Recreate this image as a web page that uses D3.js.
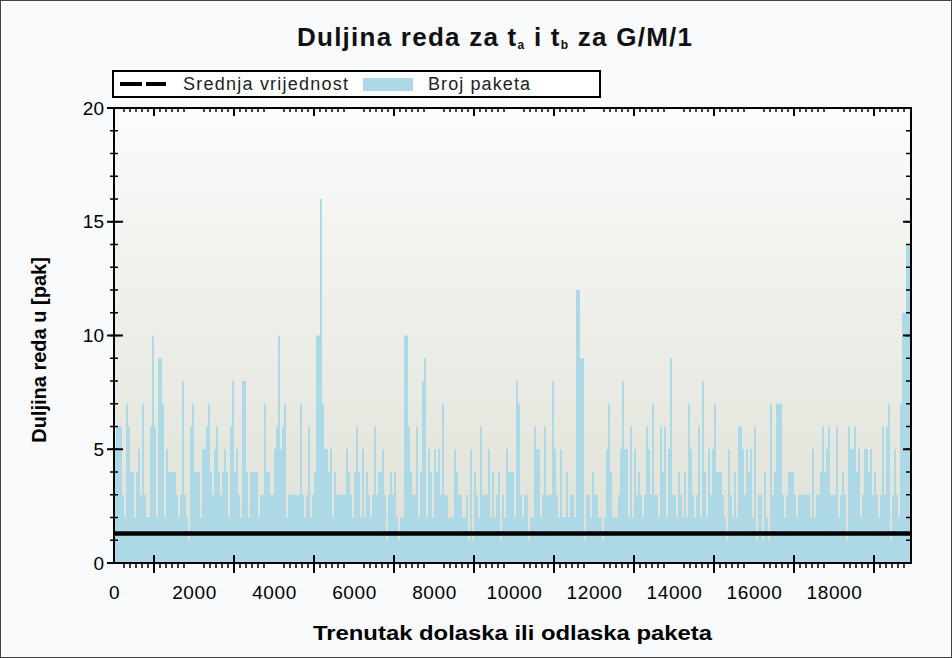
<!DOCTYPE html>
<html>
<head>
<meta charset="utf-8">
<script src="https://cdn.jsdelivr.net/npm/d3@7"></script>
<style>
  body { margin: 0; background: #f9fafb; }
  svg { display: block; }
</style>
</head>
<body>
<div class="chart"></div>
<script>
// queue length, one value per 50 packet instants
var queueLength = [
  5,6,6,6,3,2,7,6,4,4, 2,4,5,3,7,3,2,2,6,10, 6,2,9,9,7,2,5,4,4,4,
  4,3,2,3,8,3,2,1,6,7, 4,4,4,2,5,5,6,7,4,3, 5,6,4,3,4,5,4,2,6,8,
  4,5,3,2,8,8,4,2,4,4, 4,4,2,3,3,7,4,4,3,3, 5,6,10,5,6,7,2,3,3,3,
  3,3,3,7,3,2,3,6,2,3, 4,10,10,16,7,5,5,4,5,2, 4,3,3,3,3,3,5,4,3,2,
  4,6,4,2,5,2,4,3,2,3, 6,3,4,4,5,3,1,3,4,3, 4,2,1,2,2,10,10,6,4,3,
  3,6,2,4,8,9,2,5,4,2, 5,4,5,3,7,3,3,2,2,2, 5,4,3,3,2,2,3,1,5,1,
  4,3,2,6,3,3,3,5,2,4, 2,3,4,1,3,2,5,4,4,4, 2,8,7,3,2,3,3,1,2,2,
  6,5,5,2,3,6,3,3,3,8, 5,3,2,5,2,2,4,2,3,3, 2,12,12,9,9,1,3,3,2,4,
  3,3,2,2,1,2,5,7,4,2, 2,2,3,5,8,5,5,2,6,2, 5,3,4,3,2,3,6,5,3,7,
  3,3,2,6,4,6,2,5,9,3, 3,2,4,3,2,4,2,7,5,3, 2,3,6,2,8,4,2,5,3,5,
  7,4,4,4,3,2,1,5,3,2, 4,2,6,6,5,3,5,4,5,2, 6,1,3,3,1,4,2,1,7,3,
  4,7,7,7,3,2,3,4,4,4, 3,2,3,3,3,3,3,3,2,5, 2,3,3,4,6,4,5,6,3,3,
  3,6,2,3,4,3,1,6,5,5, 6,4,5,2,3,5,5,4,5,3, 4,3,2,3,6,3,6,7,1,3,
  5,3,2,7,11,11,14,14
];
var stepSize = 50;
var xMax = 19925;
var meanValue = 1.3;

var xTickLabels = [0, 2000, 4000, 6000, 8000, 10000, 12000, 14000, 16000, 18000];
var xMajorTicks = [1000, 3000, 5000, 7000, 9000, 11000, 13000, 15000, 17000, 19000];
var yTickLabels = [0, 5, 10, 15, 20];
var yMinorTicks = d3.range(0, 21);

var legendLabels = ["Srednja vrijednost", "Broj paketa"];

const width = 952,
  height = 658;
const plotLeft = 114,
  plotRight = 911,
  plotTop = 108,
  plotBottom = 563;

var svg = d3
  .select(".chart")
  .append("svg")
  .attr("width", width)
  .attr("height", height)
  .style("font-family", "'Liberation Sans', Arial, sans-serif");

// page background and frame
svg.append("rect").attr("width", width).attr("height", height).attr("fill", "#f9fafb");
svg
  .append("rect")
  .attr("x", 0.5)
  .attr("y", 0.5)
  .attr("width", width - 1)
  .attr("height", height - 1)
  .attr("fill", "none")
  .attr("stroke", "#444");

// plot gradient
var defs = svg.append("defs");
var grad = defs
  .append("linearGradient")
  .attr("id", "plotbg")
  .attr("x1", 0)
  .attr("y1", 0)
  .attr("x2", 0)
  .attr("y2", 1);
grad.append("stop").attr("offset", "0%").attr("stop-color", "#fbfcfb");
grad.append("stop").attr("offset", "100%").attr("stop-color", "#dedfd4");

defs
  .append("clipPath")
  .attr("id", "clip")
  .append("rect")
  .attr("x", plotLeft)
  .attr("y", plotTop)
  .attr("width", plotRight - plotLeft)
  .attr("height", plotBottom - plotTop);

const x = d3.scaleLinear().domain([0, xMax]).range([plotLeft, plotRight]);
const y = d3.scaleLinear().domain([0, 20]).range([plotBottom, plotTop]);

svg
  .append("rect")
  .attr("x", plotLeft)
  .attr("y", plotTop)
  .attr("width", plotRight - plotLeft)
  .attr("height", plotBottom - plotTop)
  .attr("fill", "url(#plotbg)");

// step area of the queue length
var points = queueLength.map((v, i) => ({ t: i * stepSize, v: v }));
points.push({ t: queueLength.length * stepSize, v: queueLength[queueLength.length - 1] });

var area = d3
  .area()
  .curve(d3.curveStepAfter)
  .x((d) => x(d.t))
  .y0(y(0))
  .y1((d) => y(d.v));

svg
  .append("path")
  .datum(points)
  .attr("clip-path", "url(#clip)")
  .attr("fill", "#add8e6")
  .attr("d", area);

// mean line
svg
  .append("line")
  .attr("x1", x(0))
  .attr("x2", plotRight)
  .attr("y1", y(meanValue))
  .attr("y2", y(meanValue))
  .attr("stroke", "#000")
  .attr("stroke-width", 4.5);

// plot frame
svg
  .append("rect")
  .attr("x", plotLeft)
  .attr("y", plotTop)
  .attr("width", plotRight - plotLeft)
  .attr("height", plotBottom - plotTop)
  .attr("fill", "none")
  .attr("stroke", "#000")
  .attr("stroke-width", 2);

//x minor ticks: five each side of a major tick
var xMinorTicks = [];
xMajorTicks.forEach((m) => {
  for (var k = 1; k <= 5; k++) {
    if (m - k * 150 > 0) xMinorTicks.push(m - k * 150);
    if (m + k * 150 < xMax) xMinorTicks.push(m + k * 150);
  }
});

var ticks = svg.append("g").attr("stroke", "#000").attr("stroke-width", 1.5);

// bottom
ticks.selectAll(".bmin").data(xMinorTicks).join("line").attr("class", "bmin")
  .attr("x1", (d) => x(d)).attr("x2", (d) => x(d))
  .attr("y1", plotBottom).attr("y2", plotBottom + 5);
ticks.selectAll(".bmaj").data(xMajorTicks).join("line").attr("class", "bmaj")
  .attr("stroke-width", 2)
  .attr("x1", (d) => x(d)).attr("x2", (d) => x(d))
  .attr("y1", plotBottom - 8).attr("y2", plotBottom + 10);
// top
ticks.selectAll(".tmin").data(xMinorTicks).join("line").attr("class", "tmin")
  .attr("x1", (d) => x(d)).attr("x2", (d) => x(d))
  .attr("y1", plotTop).attr("y2", plotTop + 4);
ticks.selectAll(".tmaj").data(xMajorTicks).join("line").attr("class", "tmaj")
  .attr("stroke-width", 2)
  .attr("x1", (d) => x(d)).attr("x2", (d) => x(d))
  .attr("y1", plotTop).attr("y2", plotTop + 8);
// left
ticks.selectAll(".lmin").data(yMinorTicks).join("line").attr("class", "lmin")
  .attr("x1", plotLeft - 4).attr("x2", plotLeft + 4)
  .attr("y1", (d) => y(d)).attr("y2", (d) => y(d));
ticks.selectAll(".lmaj").data(yTickLabels).join("line").attr("class", "lmaj")
  .attr("stroke-width", 2)
  .attr("x1", plotLeft - 7).attr("x2", plotLeft + 9)
  .attr("y1", (d) => y(d)).attr("y2", (d) => y(d));
// right
ticks.selectAll(".rmin").data(yMinorTicks).join("line").attr("class", "rmin")
  .attr("x1", plotRight - 5).attr("x2", plotRight)
  .attr("y1", (d) => y(d)).attr("y2", (d) => y(d));
ticks.selectAll(".rmaj").data(yTickLabels).join("line").attr("class", "rmaj")
  .attr("stroke-width", 2)
  .attr("x1", plotRight - 8).attr("x2", plotRight)
  .attr("y1", (d) => y(d)).attr("y2", (d) => y(d));

// tick labels through d3 axes
var xAxis = svg
  .append("g")
  .attr("transform", "translate(0," + (plotBottom + 15) + ")")
  .call(d3.axisBottom(x).tickValues(xTickLabels).tickSize(0).tickFormat(d3.format("d")));
xAxis.select(".domain").remove();
xAxis.selectAll("text").attr("font-size", 19).attr("fill", "#000").attr("dy", "0.95em")
  .attr("letter-spacing", 0.6)
  .style("font-family", "'Liberation Sans', Arial, sans-serif");

var yAxis = svg
  .append("g")
  .attr("transform", "translate(" + (plotLeft - 10) + ",0)")
  .call(d3.axisLeft(y).tickValues(yTickLabels).tickSize(0));
yAxis.select(".domain").remove();
yAxis.selectAll("text").attr("font-size", 19).attr("fill", "#000").attr("x", 0)
  .style("font-family", "'Liberation Sans', Arial, sans-serif");

// title
var title = svg
  .append("text")
  .attr("x", 297)
  .attr("y", 46)
  .attr("textLength", 395)
  .attr("lengthAdjust", "spacing")
  .attr("font-size", 26)
  .attr("font-weight", "bold")
  .attr("fill", "#111");
title.append("tspan").text("Duljina reda za t");
title.append("tspan").attr("font-size", 12).attr("dy", 3).text("a");
title.append("tspan").attr("dy", -3).text(" i t");
title.append("tspan").attr("font-size", 12).attr("dy", 3).text("b");
title.append("tspan").attr("dy", -3).text(" za G/M/1");

// axis titles
svg
  .append("text")
  .attr("x", 313)
  .attr("y", 640)
  .attr("textLength", 399)
  .attr("lengthAdjust", "spacingAndGlyphs")
  .attr("font-size", 21)
  .attr("font-weight", "bold")
  .text("Trenutak dolaska ili odlaska paketa");

svg
  .append("text")
  .attr("transform", "translate(46,350) rotate(-90)")
  .attr("text-anchor", "middle")
  .attr("font-size", 20)
  .attr("font-weight", "bold")
  .text("Duljina reda u [pak]");

// legend
var legend = svg.append("g");
legend
  .append("rect")
  .attr("x", 113)
  .attr("y", 71)
  .attr("width", 487)
  .attr("height", 26)
  .attr("fill", "#fff")
  .attr("stroke", "#000")
  .attr("stroke-width", 2);
legend
  .append("line")
  .attr("x1", 120)
  .attr("x2", 166)
  .attr("y1", 84)
  .attr("y2", 84)
  .attr("stroke", "#000")
  .attr("stroke-width", 4)
  .attr("stroke-dasharray", "22,4");
legend
  .append("text")
  .attr("x", 183)
  .attr("y", 90)
  .attr("font-size", 18)
  .attr("textLength", 165)
  .attr("lengthAdjust", "spacing")
  .attr("fill", "#222")
  .text(legendLabels[0]);
legend
  .append("rect")
  .attr("x", 363)
  .attr("y", 78)
  .attr("width", 50)
  .attr("height", 13)
  .attr("fill", "#add8e6");
legend
  .append("text")
  .attr("x", 428)
  .attr("y", 90)
  .attr("font-size", 18)
  .attr("textLength", 102)
  .attr("lengthAdjust", "spacing")
  .attr("fill", "#222")
  .text(legendLabels[1]);
</script>
</body>
</html>
